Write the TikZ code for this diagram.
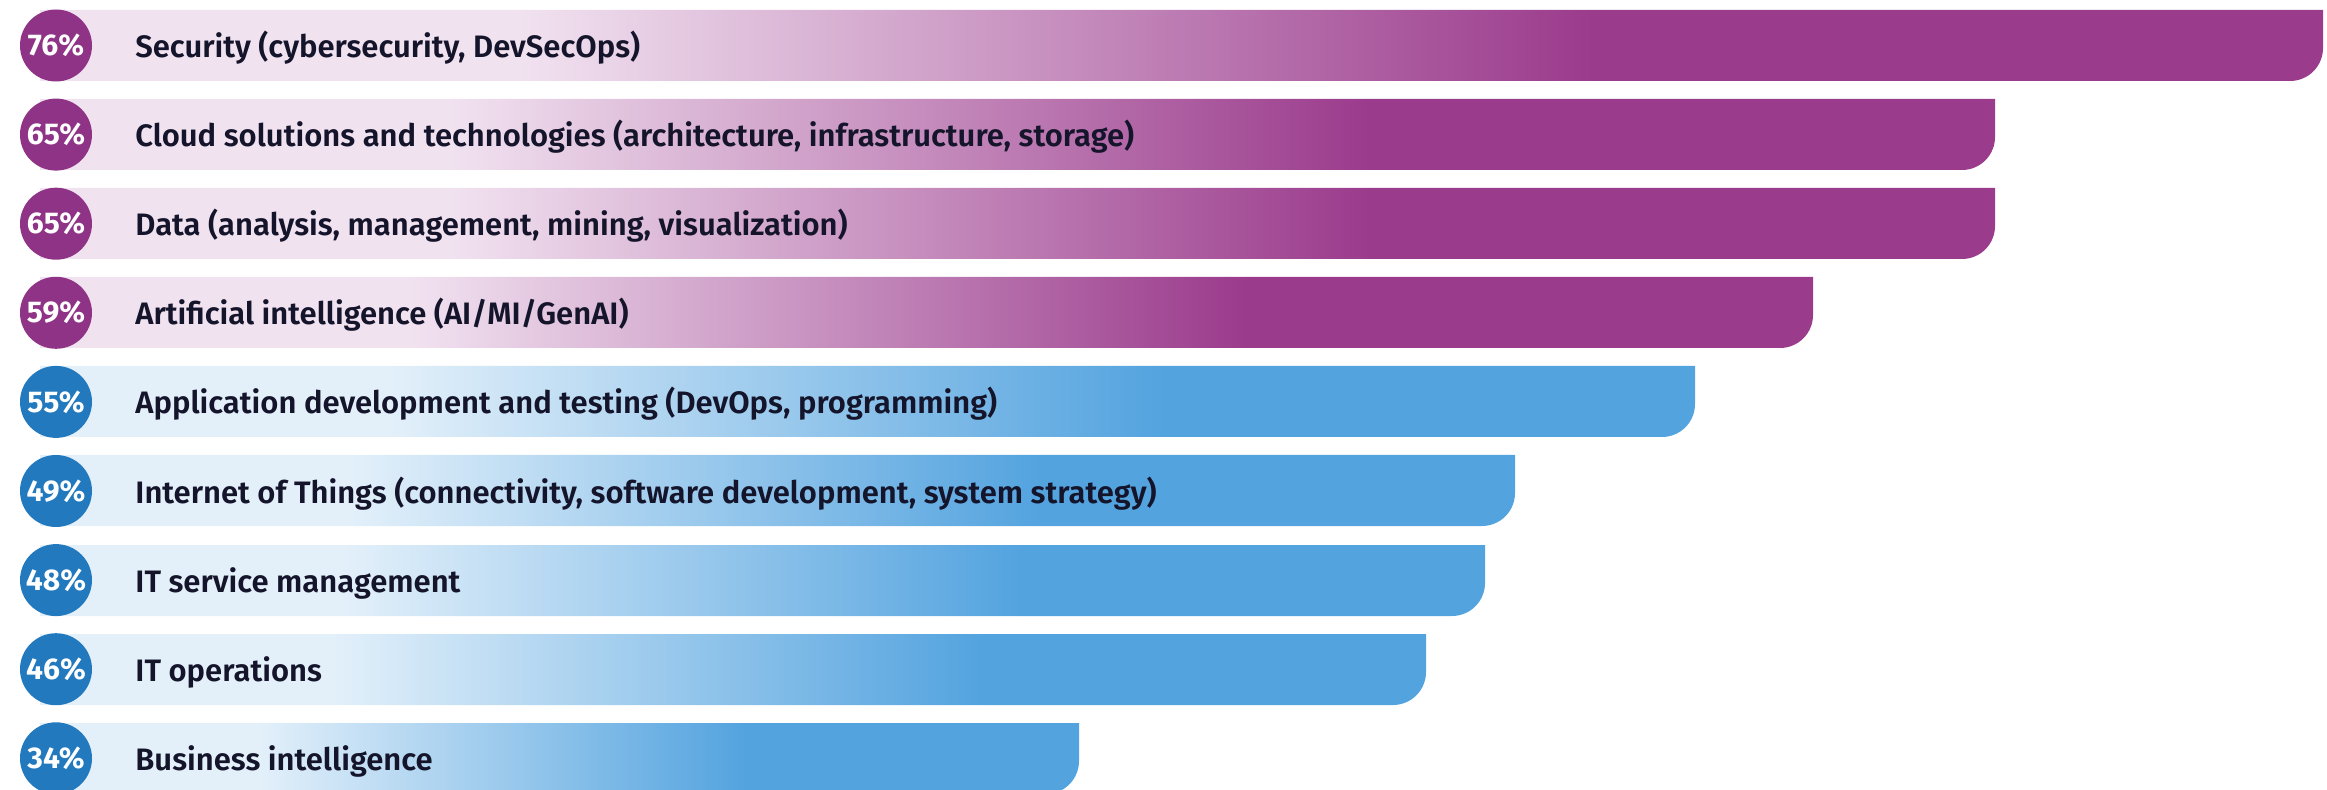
\documentclass[tikz,border=0pt]{standalone}
\usepackage{fontspec}
\setmainfont{Fira Sans}[BoldFont={Fira Sans SemiBold}]
\newfontfamily\pctfont{Fira Sans Bold}
\definecolor{purbar}{HTML}{9B3B8C}
\definecolor{purdot}{HTML}{8E3386}
\definecolor{purpale}{HTML}{F1E2F0}
\definecolor{blubar}{HTML}{53A3DF}
\definecolor{bludot}{HTML}{2279BD}
\definecolor{blupale}{HTML}{E3F0FA}
\definecolor{ink}{HTML}{14142B}
\pgfdeclarehorizontalshading{purfade}{100bp}{color(0bp)=(purpale); color(35.5bp)=(purpale); color(59bp)=(purbar); color(100bp)=(purbar)}
\pgfdeclarehorizontalshading{blufade}{100bp}{color(0bp)=(blupale); color(35.5bp)=(blupale); color(59bp)=(blubar); color(100bp)=(blubar)}

\begin{document}
\begin{tikzpicture}[x=0.5pt,y=-0.5pt,
    pctdot/.style={circle,minimum size=36pt,inner sep=0pt,text=white,font=\fontsize{15}{16}\pctfont},
    skill/.style={anchor=base west,inner sep=0pt,text=ink,font=\fontsize{15.5}{17}\selectfont\bfseries}]
        \useasboundingbox (0,0) rectangle (2327,790);

        \shade [shading=purfade] (40,10)--(2323,10)--(2323,48) arc[start angle=0,end angle=-90,radius=16.5pt]--(40,81)--cycle;
        \node [pctdot,fill=purdot] (pct1) at(56,45.5) {76\%};
        \node [skill] (skill1) at(135,57.5) {Security (cybersecurity, DevSecOps)};

        \shade [shading=purfade] (40,99)--(1995,99)--(1995,137) arc[start angle=0,end angle=-90,radius=16.5pt]--(40,170)--cycle;
        \node [pctdot,fill=purdot] (pct2) at(56,134.6) {65\%};
        \node [skill] (skill2) at(135,146.6) {Cloud solutions and technologies (architecture, infrastructure, storage)};

        \shade [shading=purfade] (40,188)--(1995,188)--(1995,226) arc[start angle=0,end angle=-90,radius=16.5pt]--(40,259)--cycle;
        \node [pctdot,fill=purdot] (pct3) at(56,223.7) {65\%};
        \node [skill] (skill3) at(135,235.7) {Data (analysis, management, mining, visualization)};

        \shade [shading=purfade] (40,277)--(1813,277)--(1813,315) arc[start angle=0,end angle=-90,radius=16.5pt]--(40,348)--cycle;
        \node [pctdot,fill=purdot] (pct4) at(56,312.8) {59\%};
        \node [skill] (skill4) at(135,324.8) {Artificial intelligence (AI/MI/GenAI)};

        \shade [shading=blufade] (40,366)--(1695,366)--(1695,404) arc[start angle=0,end angle=-90,radius=16.5pt]--(40,437)--cycle;
        \node [pctdot,fill=bludot] (pct5) at(56,401.9) {55\%};
        \node [skill] (skill5) at(135,413.9) {Application development and testing (DevOps, programming)};

        \shade [shading=blufade] (40,455)--(1515,455)--(1515,493) arc[start angle=0,end angle=-90,radius=16.5pt]--(40,526)--cycle;
        \node [pctdot,fill=bludot] (pct6) at(56,491) {49\%};
        \node [skill] (skill6) at(135,503) {Internet of Things (connectivity, software development, system strategy)};

        \shade [shading=blufade] (40,545)--(1485,545)--(1485,583) arc[start angle=0,end angle=-90,radius=16.5pt]--(40,616)--cycle;
        \node [pctdot,fill=bludot] (pct7) at(56,580.1) {48\%};
        \node [skill] (skill7) at(135,592.1) {IT service management};

        \shade [shading=blufade] (40,634)--(1426,634)--(1426,672) arc[start angle=0,end angle=-90,radius=16.5pt]--(40,705)--cycle;
        \node [pctdot,fill=bludot] (pct8) at(56,669.2) {46\%};
        \node [skill] (skill8) at(135,681.2) {IT operations};

        \shade [shading=blufade] (40,723)--(1079,723)--(1079,761) arc[start angle=0,end angle=-90,radius=16.5pt]--(40,794)--cycle;
        \node [pctdot,fill=bludot] (pct9) at(56,758.3) {34\%};
        \node [skill] (skill9) at(135,770.3) {Business intelligence};
    \end{tikzpicture}
\end{document}
